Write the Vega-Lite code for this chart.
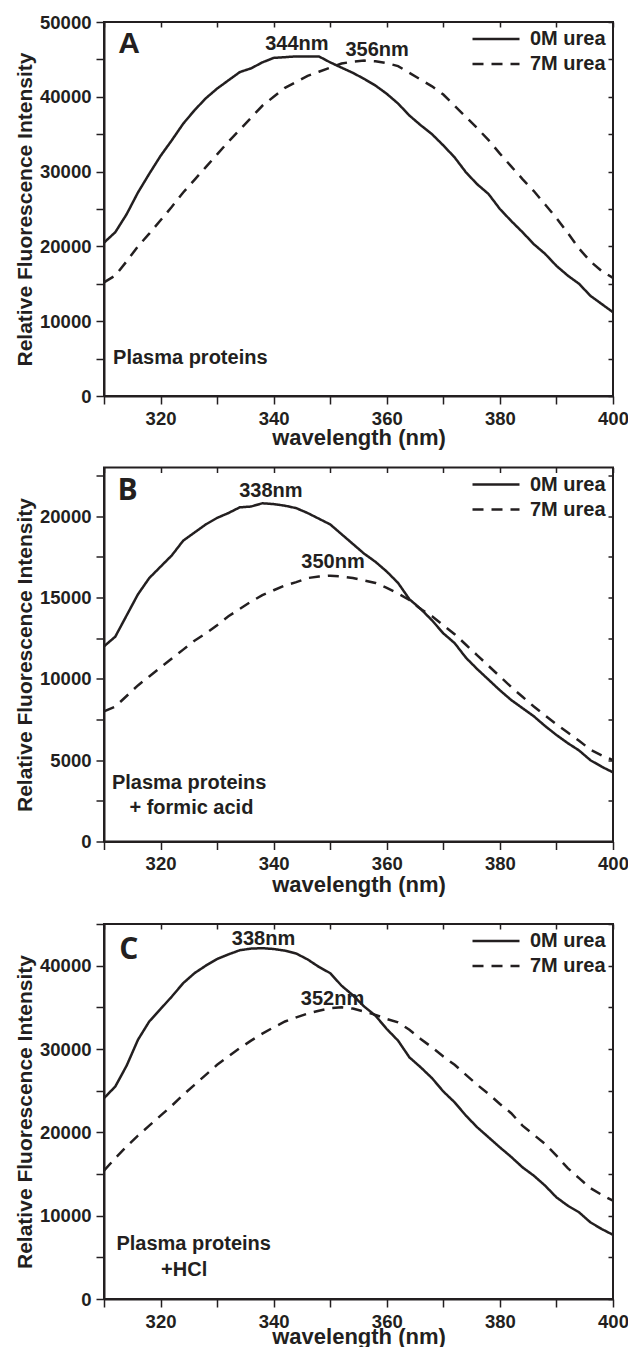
{
  "$schema": "https://vega.github.io/schema/vega-lite/v6.json",
  "autosize": {"type": "pad"},
  "padding": {"left": 13, "top": 12, "right": 0, "bottom": 0},
  "background": "white",
  "datasets": {
    "linesA": [
      {"series":"0M urea","wl":310,"v":20500},{"series":"0M urea","wl":312,"v":21900},{"series":"0M urea","wl":314,"v":24300},{"series":"0M urea","wl":316,"v":27200},{"series":"0M urea","wl":318,"v":29700},{"series":"0M urea","wl":320,"v":32100},{"series":"0M urea","wl":322,"v":34200},{"series":"0M urea","wl":324,"v":36400},{"series":"0M urea","wl":326,"v":38200},{"series":"0M urea","wl":328,"v":39800},{"series":"0M urea","wl":330,"v":41100},{"series":"0M urea","wl":332,"v":42200},{"series":"0M urea","wl":334,"v":43300},{"series":"0M urea","wl":336,"v":43800},{"series":"0M urea","wl":338,"v":44600},{"series":"0M urea","wl":340,"v":45200},{"series":"0M urea","wl":342,"v":45300},{"series":"0M urea","wl":344,"v":45400},{"series":"0M urea","wl":346,"v":45400},{"series":"0M urea","wl":348,"v":45400},{"series":"0M urea","wl":350,"v":44600},{"series":"0M urea","wl":352,"v":43900},{"series":"0M urea","wl":354,"v":43200},{"series":"0M urea","wl":356,"v":42400},{"series":"0M urea","wl":358,"v":41500},{"series":"0M urea","wl":360,"v":40400},{"series":"0M urea","wl":362,"v":39100},{"series":"0M urea","wl":364,"v":37500},{"series":"0M urea","wl":366,"v":36200},{"series":"0M urea","wl":368,"v":35000},{"series":"0M urea","wl":370,"v":33500},{"series":"0M urea","wl":372,"v":31900},{"series":"0M urea","wl":374,"v":29900},{"series":"0M urea","wl":376,"v":28300},{"series":"0M urea","wl":378,"v":27000},{"series":"0M urea","wl":380,"v":25000},{"series":"0M urea","wl":382,"v":23400},{"series":"0M urea","wl":384,"v":21900},{"series":"0M urea","wl":386,"v":20300},{"series":"0M urea","wl":388,"v":19000},{"series":"0M urea","wl":390,"v":17400},{"series":"0M urea","wl":392,"v":16100},{"series":"0M urea","wl":394,"v":15000},{"series":"0M urea","wl":396,"v":13400},{"series":"0M urea","wl":398,"v":12300},{"series":"0M urea","wl":400,"v":11200},
      {"series":"7M urea","wl":310,"v":15200},{"series":"7M urea","wl":312,"v":16100},{"series":"7M urea","wl":314,"v":18000},{"series":"7M urea","wl":316,"v":20000},{"series":"7M urea","wl":318,"v":21700},{"series":"7M urea","wl":320,"v":23500},{"series":"7M urea","wl":322,"v":25300},{"series":"7M urea","wl":324,"v":27200},{"series":"7M urea","wl":326,"v":28900},{"series":"7M urea","wl":328,"v":30600},{"series":"7M urea","wl":330,"v":32300},{"series":"7M urea","wl":332,"v":34000},{"series":"7M urea","wl":334,"v":35600},{"series":"7M urea","wl":336,"v":37200},{"series":"7M urea","wl":338,"v":38800},{"series":"7M urea","wl":340,"v":40000},{"series":"7M urea","wl":342,"v":41200},{"series":"7M urea","wl":344,"v":42000},{"series":"7M urea","wl":346,"v":42800},{"series":"7M urea","wl":348,"v":43350},{"series":"7M urea","wl":350,"v":43900},{"series":"7M urea","wl":352,"v":44450},{"series":"7M urea","wl":354,"v":44700},{"series":"7M urea","wl":356,"v":44850},{"series":"7M urea","wl":358,"v":44750},{"series":"7M urea","wl":360,"v":44500},{"series":"7M urea","wl":362,"v":44100},{"series":"7M urea","wl":364,"v":43200},{"series":"7M urea","wl":366,"v":42300},{"series":"7M urea","wl":368,"v":41400},{"series":"7M urea","wl":370,"v":40300},{"series":"7M urea","wl":372,"v":38800},{"series":"7M urea","wl":374,"v":37300},{"series":"7M urea","wl":376,"v":35800},{"series":"7M urea","wl":378,"v":34200},{"series":"7M urea","wl":380,"v":32400},{"series":"7M urea","wl":382,"v":30700},{"series":"7M urea","wl":384,"v":29000},{"series":"7M urea","wl":386,"v":27400},{"series":"7M urea","wl":388,"v":25600},{"series":"7M urea","wl":390,"v":23800},{"series":"7M urea","wl":392,"v":21800},{"series":"7M urea","wl":394,"v":19700},{"series":"7M urea","wl":396,"v":18000},{"series":"7M urea","wl":398,"v":16700},{"series":"7M urea","wl":400,"v":15800}
    ],
    "linesB": [
      {"series":"0M urea","wl":310,"v":12000},{"series":"0M urea","wl":312,"v":12600},{"series":"0M urea","wl":314,"v":13900},{"series":"0M urea","wl":316,"v":15200},{"series":"0M urea","wl":318,"v":16200},{"series":"0M urea","wl":320,"v":16900},{"series":"0M urea","wl":322,"v":17600},{"series":"0M urea","wl":324,"v":18500},{"series":"0M urea","wl":326,"v":19000},{"series":"0M urea","wl":328,"v":19500},{"series":"0M urea","wl":330,"v":19900},{"series":"0M urea","wl":332,"v":20200},{"series":"0M urea","wl":334,"v":20550},{"series":"0M urea","wl":336,"v":20600},{"series":"0M urea","wl":338,"v":20800},{"series":"0M urea","wl":340,"v":20750},{"series":"0M urea","wl":342,"v":20650},{"series":"0M urea","wl":344,"v":20500},{"series":"0M urea","wl":346,"v":20200},{"series":"0M urea","wl":348,"v":19850},{"series":"0M urea","wl":350,"v":19500},{"series":"0M urea","wl":352,"v":18900},{"series":"0M urea","wl":354,"v":18300},{"series":"0M urea","wl":356,"v":17700},{"series":"0M urea","wl":358,"v":17200},{"series":"0M urea","wl":360,"v":16600},{"series":"0M urea","wl":362,"v":15900},{"series":"0M urea","wl":364,"v":14900},{"series":"0M urea","wl":366,"v":14300},{"series":"0M urea","wl":368,"v":13600},{"series":"0M urea","wl":370,"v":12800},{"series":"0M urea","wl":372,"v":12200},{"series":"0M urea","wl":374,"v":11300},{"series":"0M urea","wl":376,"v":10600},{"series":"0M urea","wl":378,"v":9950},{"series":"0M urea","wl":380,"v":9300},{"series":"0M urea","wl":382,"v":8700},{"series":"0M urea","wl":384,"v":8200},{"series":"0M urea","wl":386,"v":7700},{"series":"0M urea","wl":388,"v":7100},{"series":"0M urea","wl":390,"v":6550},{"series":"0M urea","wl":392,"v":6050},{"series":"0M urea","wl":394,"v":5600},{"series":"0M urea","wl":396,"v":5000},{"series":"0M urea","wl":398,"v":4600},{"series":"0M urea","wl":400,"v":4250},
      {"series":"7M urea","wl":310,"v":8000},{"series":"7M urea","wl":312,"v":8300},{"series":"7M urea","wl":314,"v":8950},{"series":"7M urea","wl":316,"v":9600},{"series":"7M urea","wl":318,"v":10150},{"series":"7M urea","wl":320,"v":10700},{"series":"7M urea","wl":322,"v":11250},{"series":"7M urea","wl":324,"v":11800},{"series":"7M urea","wl":326,"v":12350},{"series":"7M urea","wl":328,"v":12800},{"series":"7M urea","wl":330,"v":13300},{"series":"7M urea","wl":332,"v":13850},{"series":"7M urea","wl":334,"v":14300},{"series":"7M urea","wl":336,"v":14750},{"series":"7M urea","wl":338,"v":15150},{"series":"7M urea","wl":340,"v":15450},{"series":"7M urea","wl":342,"v":15750},{"series":"7M urea","wl":344,"v":15950},{"series":"7M urea","wl":346,"v":16200},{"series":"7M urea","wl":348,"v":16300},{"series":"7M urea","wl":350,"v":16350},{"series":"7M urea","wl":352,"v":16300},{"series":"7M urea","wl":354,"v":16200},{"series":"7M urea","wl":356,"v":16050},{"series":"7M urea","wl":358,"v":15900},{"series":"7M urea","wl":360,"v":15600},{"series":"7M urea","wl":362,"v":15250},{"series":"7M urea","wl":364,"v":14850},{"series":"7M urea","wl":366,"v":14300},{"series":"7M urea","wl":368,"v":13850},{"series":"7M urea","wl":370,"v":13300},{"series":"7M urea","wl":372,"v":12750},{"series":"7M urea","wl":374,"v":12100},{"series":"7M urea","wl":376,"v":11450},{"series":"7M urea","wl":378,"v":10800},{"series":"7M urea","wl":380,"v":10150},{"series":"7M urea","wl":382,"v":9500},{"series":"7M urea","wl":384,"v":8900},{"series":"7M urea","wl":386,"v":8300},{"series":"7M urea","wl":388,"v":7750},{"series":"7M urea","wl":390,"v":7200},{"series":"7M urea","wl":392,"v":6700},{"series":"7M urea","wl":394,"v":6200},{"series":"7M urea","wl":396,"v":5650},{"series":"7M urea","wl":398,"v":5300},{"series":"7M urea","wl":400,"v":5000}
    ],
    "linesC": [
      {"series":"0M urea","wl":310,"v":24100},{"series":"0M urea","wl":312,"v":25500},{"series":"0M urea","wl":314,"v":28000},{"series":"0M urea","wl":316,"v":31100},{"series":"0M urea","wl":318,"v":33300},{"series":"0M urea","wl":320,"v":34800},{"series":"0M urea","wl":322,"v":36300},{"series":"0M urea","wl":324,"v":37900},{"series":"0M urea","wl":326,"v":39100},{"series":"0M urea","wl":328,"v":40000},{"series":"0M urea","wl":330,"v":40800},{"series":"0M urea","wl":332,"v":41350},{"series":"0M urea","wl":334,"v":41850},{"series":"0M urea","wl":336,"v":42050},{"series":"0M urea","wl":338,"v":42100},{"series":"0M urea","wl":340,"v":42000},{"series":"0M urea","wl":342,"v":41800},{"series":"0M urea","wl":344,"v":41450},{"series":"0M urea","wl":346,"v":40750},{"series":"0M urea","wl":348,"v":39850},{"series":"0M urea","wl":350,"v":39100},{"series":"0M urea","wl":352,"v":37600},{"series":"0M urea","wl":354,"v":36450},{"series":"0M urea","wl":356,"v":35100},{"series":"0M urea","wl":358,"v":34000},{"series":"0M urea","wl":360,"v":32400},{"series":"0M urea","wl":362,"v":31000},{"series":"0M urea","wl":364,"v":29000},{"series":"0M urea","wl":366,"v":27800},{"series":"0M urea","wl":368,"v":26500},{"series":"0M urea","wl":370,"v":24900},{"series":"0M urea","wl":372,"v":23600},{"series":"0M urea","wl":374,"v":22000},{"series":"0M urea","wl":376,"v":20600},{"series":"0M urea","wl":378,"v":19400},{"series":"0M urea","wl":380,"v":18200},{"series":"0M urea","wl":382,"v":17050},{"series":"0M urea","wl":384,"v":15800},{"series":"0M urea","wl":386,"v":14800},{"series":"0M urea","wl":388,"v":13600},{"series":"0M urea","wl":390,"v":12200},{"series":"0M urea","wl":392,"v":11200},{"series":"0M urea","wl":394,"v":10400},{"series":"0M urea","wl":396,"v":9200},{"series":"0M urea","wl":398,"v":8400},{"series":"0M urea","wl":400,"v":7700},
      {"series":"7M urea","wl":310,"v":15400},{"series":"7M urea","wl":312,"v":16900},{"series":"7M urea","wl":314,"v":18300},{"series":"7M urea","wl":316,"v":19600},{"series":"7M urea","wl":318,"v":20800},{"series":"7M urea","wl":320,"v":22000},{"series":"7M urea","wl":322,"v":23200},{"series":"7M urea","wl":324,"v":24500},{"series":"7M urea","wl":326,"v":25700},{"series":"7M urea","wl":328,"v":26900},{"series":"7M urea","wl":330,"v":28100},{"series":"7M urea","wl":332,"v":29100},{"series":"7M urea","wl":334,"v":30100},{"series":"7M urea","wl":336,"v":31000},{"series":"7M urea","wl":338,"v":31850},{"series":"7M urea","wl":340,"v":32600},{"series":"7M urea","wl":342,"v":33300},{"series":"7M urea","wl":344,"v":33800},{"series":"7M urea","wl":346,"v":34250},{"series":"7M urea","wl":348,"v":34600},{"series":"7M urea","wl":350,"v":34900},{"series":"7M urea","wl":352,"v":35000},{"series":"7M urea","wl":354,"v":34850},{"series":"7M urea","wl":356,"v":34500},{"series":"7M urea","wl":358,"v":34100},{"series":"7M urea","wl":360,"v":33600},{"series":"7M urea","wl":362,"v":33200},{"series":"7M urea","wl":364,"v":32300},{"series":"7M urea","wl":366,"v":31200},{"series":"7M urea","wl":368,"v":30200},{"series":"7M urea","wl":370,"v":29100},{"series":"7M urea","wl":372,"v":28100},{"series":"7M urea","wl":374,"v":26900},{"series":"7M urea","wl":376,"v":25700},{"series":"7M urea","wl":378,"v":24600},{"series":"7M urea","wl":380,"v":23400},{"series":"7M urea","wl":382,"v":22300},{"series":"7M urea","wl":384,"v":20800},{"series":"7M urea","wl":386,"v":19700},{"series":"7M urea","wl":388,"v":18600},{"series":"7M urea","wl":390,"v":17200},{"series":"7M urea","wl":392,"v":15700},{"series":"7M urea","wl":394,"v":14500},{"series":"7M urea","wl":396,"v":13300},{"series":"7M urea","wl":398,"v":12500},{"series":"7M urea","wl":400,"v":11800}
    ],
    "peaksA": [{"label":"344nm","wl":344.1,"v":47100},{"label":"356nm","wl":358.3,"v":46300}],
    "peaksB": [{"label":"338nm","wl":339.5,"v":21550},{"label":"350nm","wl":350.5,"v":17200}],
    "peaksC": [{"label":"338nm","wl":338.2,"v":43200},{"label":"352nm","wl":350.4,"v":36050}],
    "notesA": [{"label":"Plasma proteins","wl":311.6,"v":5100}],
    "notesB": [{"label":"Plasma proteins","wl":311.4,"v":3600},{"label":"+ formic acid","wl":314.5,"v":2050}],
    "notesC": [{"label":"Plasma proteins","wl":312.2,"v":6600},{"label":"+HCl","wl":320.1,"v":3500}],
    "letterA": [{"label":"A","wl":312.5,"v":45850}],
    "letterB": [{"label":"B","wl":312.4,"v":21000}],
    "letterC": [{"label":"C","wl":312.7,"v":40800}]
  },
  "resolve": {"scale": {"strokeDash": "independent"}, "legend": {"strokeDash": "independent"}},
  "spacing": 18,
  "vconcat": [
    {
      "resolve": {"scale": {"strokeDash": "independent"}, "legend": {"strokeDash": "independent"}},
      "spacing": 15.5,
      "vconcat": [
        {
          "width": 509, "height": 374,
          "resolve": {"axis": {"x": "independent", "y": "independent"}},
          "layer": [
            {
              "data": {"name": "linesA"},
              "mark": {"type": "line", "strokeWidth": 2.5, "color": "#231f20"},
              "encoding": {
                "x": {"field": "wl", "type": "quantitative", "scale": {"domain": [310, 400], "nice": false, "zero": false},
                  "axis": {"orient": "bottom", "title": "wavelength (nm)", "values": [310,320,330,340,350,360,370,380,390,400], "format": "d", "labelExpr": "datum.value % 20 === 0 ? datum.label : ''", "titlePadding": 0}},
                "y": {"field": "v", "type": "quantitative", "scale": {"domain": [0, 50000], "nice": false},
                  "axis": {"orient": "left", "title": "Relative Fluorescence Intensity", "values": [0,5000,10000,15000,20000,25000,30000,35000,40000,45000,50000], "format": "d", "labelExpr": "datum.value % 10000 === 0 ? datum.label : ''"}},
                "strokeDash": {"field": "series", "type": "nominal", "scale": {"domain": ["0M urea", "7M urea"], "range": [[1, 0], [11, 8]]}, "legend": {"title": null}}
              }
            },
            {
              "data": {"name": "peaksA"},
              "mark": {"type": "text", "align": "center", "baseline": "middle"},
              "encoding": {
                "x": {"field": "wl", "type": "quantitative", "scale": {"domain": [310, 400], "nice": false, "zero": false},
                  "axis": {"orient": "top", "title": null, "labels": false, "domain": false, "offset": -5, "tickSize": 5, "values": [310,320,330,340,350,360,370,380,390,400]}},
                "y": {"field": "v", "type": "quantitative", "scale": {"domain": [0, 50000], "nice": false},
                  "axis": {"orient": "right", "title": null, "labels": false, "domain": false, "offset": -5, "tickSize": 5, "values": [0,5000,10000,15000,20000,25000,30000,35000,40000,45000,50000]}},
                "text": {"field": "label"}
              }
            },
            {
              "data": {"name": "notesA"},
              "mark": {"type": "text", "align": "left", "baseline": "middle"},
              "encoding": {
                "x": {"field": "wl", "type": "quantitative", "scale": {"domain": [310, 400], "nice": false, "zero": false}, "axis": null},
                "y": {"field": "v", "type": "quantitative", "scale": {"domain": [0, 50000], "nice": false}, "axis": null},
                "text": {"field": "label"}
              }
            },
            {
              "data": {"name": "letterA"},
              "mark": {"type": "text", "align": "left", "baseline": "alphabetic", "fontSize": 30, "font": "Liberation Sans"},
              "encoding": {
                "x": {"field": "wl", "type": "quantitative", "scale": {"domain": [310, 400], "nice": false, "zero": false}, "axis": null},
                "y": {"field": "v", "type": "quantitative", "scale": {"domain": [0, 50000], "nice": false}, "axis": null},
                "text": {"field": "label"}
              }
            }
          ]
        },
        {
          "width": 509, "height": 374,
          "resolve": {"axis": {"x": "independent", "y": "independent"}},
          "layer": [
            {
              "data": {"name": "linesB"},
              "mark": {"type": "line", "strokeWidth": 2.5, "color": "#231f20"},
              "encoding": {
                "x": {"field": "wl", "type": "quantitative", "scale": {"domain": [310, 400], "nice": false, "zero": false},
                  "axis": {"orient": "bottom", "title": "wavelength (nm)", "values": [310,320,330,340,350,360,370,380,390,400], "format": "d", "labelExpr": "datum.value % 20 === 0 ? datum.label : ''", "titlePadding": 1}},
                "y": {"field": "v", "type": "quantitative", "scale": {"domain": [0, 23000], "nice": false},
                  "axis": {"orient": "left", "title": "Relative Fluorescence Intensity", "values": [0,2500,5000,7500,10000,12500,15000,17500,20000,22500], "format": "d", "labelExpr": "datum.value % 5000 === 0 ? datum.label : ''"}},
                "strokeDash": {"field": "series", "type": "nominal", "scale": {"domain": ["0M urea", "7M urea"], "range": [[1, 0], [11, 8]]}, "legend": {"title": null}}
              }
            },
            {
              "data": {"name": "peaksB"},
              "mark": {"type": "text", "align": "center", "baseline": "middle"},
              "encoding": {
                "x": {"field": "wl", "type": "quantitative", "scale": {"domain": [310, 400], "nice": false, "zero": false},
                  "axis": {"orient": "top", "title": null, "labels": false, "domain": false, "offset": -5, "tickSize": 5, "values": [310,320,330,340,350,360,370,380,390,400]}},
                "y": {"field": "v", "type": "quantitative", "scale": {"domain": [0, 23000], "nice": false},
                  "axis": {"orient": "right", "title": null, "labels": false, "domain": false, "offset": -5, "tickSize": 5, "values": [0,2500,5000,7500,10000,12500,15000,17500,20000,22500]}},
                "text": {"field": "label"}
              }
            },
            {
              "data": {"name": "notesB"},
              "mark": {"type": "text", "align": "left", "baseline": "middle"},
              "encoding": {
                "x": {"field": "wl", "type": "quantitative", "scale": {"domain": [310, 400], "nice": false, "zero": false}, "axis": null},
                "y": {"field": "v", "type": "quantitative", "scale": {"domain": [0, 23000], "nice": false}, "axis": null},
                "text": {"field": "label"}
              }
            },
            {
              "data": {"name": "letterB"},
              "mark": {"type": "text", "align": "left", "baseline": "alphabetic", "fontSize": 30, "font": "Open Sans"},
              "encoding": {
                "x": {"field": "wl", "type": "quantitative", "scale": {"domain": [310, 400], "nice": false, "zero": false}, "axis": null},
                "y": {"field": "v", "type": "quantitative", "scale": {"domain": [0, 23000], "nice": false}, "axis": null},
                "text": {"field": "label"}
              }
            }
          ]
        }
      ]
    },
    {
      "width": 509, "height": 375,
      "resolve": {"axis": {"x": "independent", "y": "independent"}},
      "layer": [
        {
          "data": {"name": "linesC"},
          "mark": {"type": "line", "strokeWidth": 2.5, "color": "#231f20"},
          "encoding": {
            "x": {"field": "wl", "type": "quantitative", "scale": {"domain": [310, 400], "nice": false, "zero": false},
              "axis": {"orient": "bottom", "title": "wavelength (nm)", "values": [310,320,330,340,350,360,370,380,390,400], "format": "d", "labelExpr": "datum.value % 20 === 0 ? datum.label : ''", "titlePadding": -4}},
            "y": {"field": "v", "type": "quantitative", "scale": {"domain": [0, 45000], "nice": false},
              "axis": {"orient": "left", "title": "Relative Fluorescence Intensity", "values": [0,5000,10000,15000,20000,25000,30000,35000,40000,45000], "format": "d", "labelExpr": "datum.value % 10000 === 0 ? datum.label : ''"}},
            "strokeDash": {"field": "series", "type": "nominal", "scale": {"domain": ["0M urea", "7M urea"], "range": [[1, 0], [11, 8]]}, "legend": {"title": null}}
          }
        },
        {
          "data": {"name": "peaksC"},
          "mark": {"type": "text", "align": "center", "baseline": "middle"},
          "encoding": {
            "x": {"field": "wl", "type": "quantitative", "scale": {"domain": [310, 400], "nice": false, "zero": false},
              "axis": {"orient": "top", "title": null, "labels": false, "domain": false, "offset": -5, "tickSize": 5, "values": [310,320,330,340,350,360,370,380,390,400]}},
            "y": {"field": "v", "type": "quantitative", "scale": {"domain": [0, 45000], "nice": false},
              "axis": {"orient": "right", "title": null, "labels": false, "domain": false, "offset": -5, "tickSize": 5, "values": [0,5000,10000,15000,20000,25000,30000,35000,40000,45000]}},
            "text": {"field": "label"}
          }
        },
        {
          "data": {"name": "notesC"},
          "mark": {"type": "text", "align": "left", "baseline": "middle"},
          "encoding": {
            "x": {"field": "wl", "type": "quantitative", "scale": {"domain": [310, 400], "nice": false, "zero": false}, "axis": null},
            "y": {"field": "v", "type": "quantitative", "scale": {"domain": [0, 45000], "nice": false}, "axis": null},
            "text": {"field": "label"}
          }
        },
        {
          "data": {"name": "letterC"},
          "mark": {"type": "text", "align": "left", "baseline": "alphabetic", "fontSize": 30, "font": "Open Sans"},
          "encoding": {
            "x": {"field": "wl", "type": "quantitative", "scale": {"domain": [310, 400], "nice": false, "zero": false}, "axis": null},
            "y": {"field": "v", "type": "quantitative", "scale": {"domain": [0, 45000], "nice": false}, "axis": null},
            "text": {"field": "label"}
          }
        }
      ]
    }
  ],
  "config": {
    "view": {"stroke": "#231f20", "strokeWidth": 2},
    "axis": {
      "grid": false,
      "domainColor": "#231f20", "domainWidth": 2,
      "tickColor": "#231f20", "tickWidth": 1.5, "tickSize": 8,
      "labelFont": "Liberation Sans", "labelFontWeight": "bold", "labelFontSize": 18.5, "labelColor": "#231f20",
      "labelPadding": 5, "labelOverlap": false, "labelFlush": false, "labelBound": false,
      "titleFont": "Liberation Sans", "titleFontWeight": "bold", "titleColor": "#231f20"
    },
    "axisX": {"titleFontSize": 22},
    "axisY": {"titleFontSize": 21, "titlePadding": 4},
    "axisTop": {"tickSize": 5, "offset": -5, "domain": false, "labels": false},
    "axisRight": {"tickSize": 5, "offset": -5, "domain": false, "labels": false},
    "legend": {
      "orient": "top-right", "offset": 7, "padding": 0,
      "symbolType": "M-4.7,0H4.7", "symbolSize": 100, "symbolStrokeWidth": 2.5, "symbolStrokeColor": "#231f20",
      "labelFont": "Liberation Sans", "labelFontWeight": "bold", "labelFontSize": 20, "labelColor": "#231f20",
      "labelOffset": 24, "rowPadding": 5
    },
    "text": {"font": "Liberation Sans", "fontWeight": "bold", "fontSize": 20, "color": "#231f20"}
  }
}
